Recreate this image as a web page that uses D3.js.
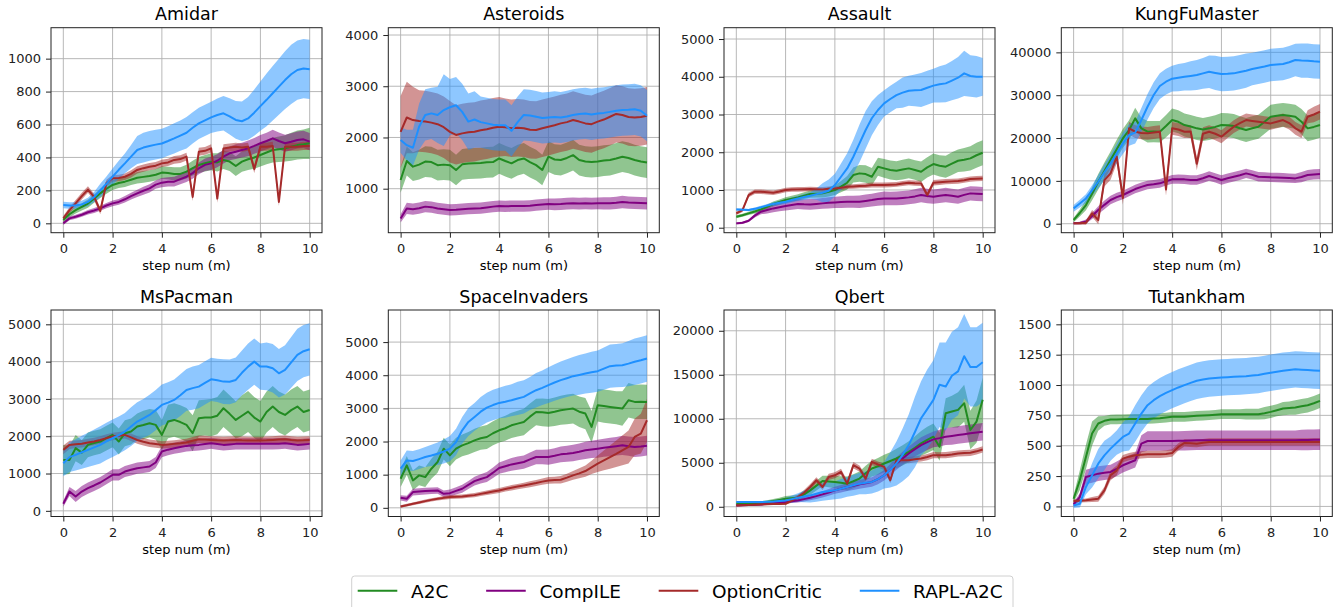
<!DOCTYPE html>
<html><head><meta charset="utf-8">
<script src="https://cdn.jsdelivr.net/npm/d3@7"></script>
<style>body{margin:0;background:#fff}</style>
</head><body><svg id="c" width="1343" height="607"></svg>
<script>
// ---------------- DATA ----------------
const SERIES_NAMES = ["A2C", "CompILE", "OptionCritic", "RAPL-A2C"];
const GAMES = ["Amidar", "Asteroids", "Assault", "KungFuMaster", "MsPacman", "SpaceInvaders", "Qbert", "Tutankham"];
const STEPS = [0, 0.25,0.5,0.75,1, 1.25,1.5,1.75,2, 2.25,2.5,2.75,3, 3.25,3.5,3.75,4, 4.25,4.5,4.75,5,
  5.25,5.5,5.75,6, 6.25,6.5,6.75,7, 7.25,7.5,7.75,8, 8.25,8.5,8.75,9, 9.25,9.5,9.75,10];
const X_TICKS = [0, 2, 4, 6, 8, 10];
const X_LIM = [-0.5, 10.5];

// Amidar
const AMIDAR_YLIM = [-57, 1188];
const AMIDAR_YTICKS = [0, 200, 400, 600, 800, 1000];
const AMIDAR_A2C = [20, 55,80,100,120, 150,182,210,233, 245,253,265,277, 282,287,295,308, 305,300,300,314, 335,354,365,374, 370,385,375,348, 375,389,400,415, 430,445,450,455, 465,475,480,486];
const AMIDAR_A2C_SD = [15, 18,20,22,25, 25,28,30,30, 30,32,33,35, 35,35,35,38, 38,40,40,42, 45,48,50,52, 55,55,58,60, 62,65,68,70, 72,75,78,80, 85,88,90,95];
const AMIDAR_COMP = [0, 30,40,52,67, 78,91,108,121, 130,146,165,182, 198,212,235,247, 252,253,268,283, 305,334,355,364, 380,405,425,435, 445,455,470,486, 500,516,500,486, 495,506,510,496];
const AMIDAR_COMP_SD = [10, 12,12,12,14, 15,15,16,18, 18,20,20,22, 24,25,25,28, 28,30,30,32, 34,36,38,40, 40,42,42,45, 45,48,48,50, 50,52,52,52, 52,52,52,52];
const AMIDAR_OC = [30, 80,121,165,205, 160,75,245,273, 275,283,300,324, 335,344,350,364, 370,385,390,405, 160,435,440,455, 150,455,460,465, 460,465,330,465, 465,470,130,465, 465,465,470,470];
const AMIDAR_OC_SD = [15, 18,20,20,20, 20,20,20,20, 20,20,22,22, 22,22,22,22, 22,24,24,24, 24,24,24,25, 25,25,25,25, 25,25,25,25, 25,25,25,25, 25,25,25,25];
const AMIDAR_RAPL = [111, 108,108,115,130, 160,200,240,283, 325,364,405,445, 460,470,478,485, 500,516,533,550, 580,607,625,643, 658,668,650,628, 620,637,672,712, 750,790,830,870, 905,931,940,935];
const AMIDAR_RAPL_SD = [20, 20,20,22,25, 30,40,45,50, 55,60,70,85, 90,90,90,90, 90,92,92,95, 95,95,95,95, 100,105,110,115, 120,130,140,150, 160,165,170,175, 180,180,180,180];

// Asteroids
const ASTEROIDS_YLIM = [141, 4143];
const ASTEROIDS_YTICKS = [1000, 2000, 3000, 4000];
const ASTEROIDS_A2C = [1170, 1540,1430,1470,1530, 1520,1460,1470,1460, 1365,1475,1490,1495, 1500,1515,1520,1590, 1540,1495,1560,1590, 1520,1460,1365,1625, 1570,1560,1600,1655, 1560,1530,1520,1530, 1550,1560,1590,1625, 1600,1560,1530,1510];
const ASTEROIDS_A2C_SD = [250, 280,280,290,300, 300,300,300,300, 300,300,300,300, 300,300,300,300, 300,300,300,300, 300,300,300,300, 300,300,300,300, 300,300,300,300, 300,300,300,300, 300,300,300,300];
const ASTEROIDS_COMP = [420, 615,600,620,650, 640,615,600,585, 590,600,610,615, 620,635,650,660, 655,660,660,660, 665,680,690,700, 695,700,710,715, 710,715,710,715, 715,715,725,740, 730,725,720,715];
const ASTEROIDS_COMP_SD = [80, 110,110,110,110, 110,110,110,110, 110,110,110,110, 110,110,110,110, 110,110,110,110, 110,110,110,110, 115,115,115,115, 115,115,115,115, 120,120,120,120, 120,120,120,120];
const ASTEROIDS_OC = [2110, 2390,2340,2320,2310, 2290,2260,2200,2110, 2050,2080,2100,2110, 2140,2160,2190,2210, 2200,2180,2190,2180, 2150,2145,2180,2210, 2240,2275,2300,2340, 2310,2275,2260,2310, 2350,2405,2460,2440, 2400,2390,2400,2425];
const ASTEROIDS_OC_SD = [700, 700,650,600,600, 600,600,600,600, 580,580,580,580, 580,580,580,580, 560,560,560,560, 560,560,560,560, 560,560,560,560, 560,560,560,560, 560,560,560,560, 560,560,560,560];
const ASTEROIDS_RAPL = [1950, 1850,1800,2210,2440, 2470,2440,2535,2590, 2630,2500,2310,2350, 2300,2275,2250,2240, 2240,2130,2300,2440, 2430,2405,2380,2390, 2400,2390,2410,2440, 2460,2470,2450,2470, 2480,2500,2520,2535, 2540,2550,2520,2425];
const ASTEROIDS_RAPL_SD = [250, 300,350,450,500, 500,550,700,550, 550,550,550,550, 500,500,500,500, 500,500,500,500, 500,500,500,500, 500,500,500,500, 500,500,500,500, 500,500,500,500, 500,500,500,500];

// Assault
const ASSAULT_YLIM = [-132, 5300];
const ASSAULT_YTICKS = [0, 1000, 2000, 3000, 4000, 5000];
const ASSAULT_A2C = [290, 330,380,430,486, 555,627,680,733, 770,804,850,892, 900,910,950,998, 1087,1192,1395,1440, 1422,1350,1617,1572, 1530,1510,1540,1572, 1530,1484,1600,1687, 1640,1617,1700,1775, 1800,1837,1920,1987];
const ASSAULT_A2C_SD = [40, 40,45,50,55, 60,65,70,75, 80,85,90,95, 100,110,120,130, 150,180,200,220, 230,230,240,250, 250,250,260,260, 260,270,270,280, 280,290,300,300, 310,320,330,330];
const ASSAULT_COMP = [115, 130,185,320,424, 470,512,545,574, 600,627,620,618, 630,645,660,671, 680,690,690,690, 710,733,760,777, 775,777,790,804, 830,866,840,822, 845,866,845,822, 870,910,900,892];
const ASSAULT_COMP_SD = [30, 30,35,50,70, 90,100,110,120, 125,130,135,140, 140,145,150,150, 155,160,160,165, 170,170,175,180, 180,180,185,185, 190,190,190,190, 190,190,190,190, 190,190,190,190];
const ASSAULT_OC = [380, 468,866,954,954, 940,928,960,998, 1010,1016,1020,1025, 1020,1016,1030,1042, 1060,1087,1095,1104, 1115,1130,1130,1130, 1140,1148,1170,1192, 1180,1175,866,1192, 1205,1219,1228,1237, 1260,1290,1300,1307];
const ASSAULT_OC_SD = [40, 50,60,60,60, 60,60,60,60, 60,60,60,60, 60,60,60,60, 60,60,60,60, 65,65,65,65, 65,65,65,65, 70,70,70,70, 70,70,70,70, 70,70,70,70];
const ASSAULT_RAPL = [486, 478,468,500,540, 585,627,660,690, 735,777,812,848, 890,928,980,1130, 1350,1570,1880,2235, 2590,2900,3120,3295, 3410,3515,3580,3630, 3640,3650,3710,3765, 3800,3825,3900,3975, 4090,4020,4000,4000];
const ASSAULT_RAPL_SD = [30, 30,30,35,40, 45,50,55,60, 65,70,80,90, 150,250,300,300, 350,400,450,500, 500,450,400,350, 350,350,400,400, 420,450,450,450, 480,500,520,550, 600,550,550,500];

// KungFuMaster
const KUNGFU_YLIM = [-2100, 45760];
const KUNGFU_YTICKS = [0, 10000, 20000, 30000, 40000];
const KUNGFU_A2C = [860, 2500,4360,7000,9800, 12300,14860,17400,19920, 21870,24590,22260,21480, 21500,21480,22800,24200, 23800,23040,22700,22260, 22000,22260,22600,23040, 23000,22800,22300,21870, 22300,22650,23800,24980, 25200,25370,25200,24980, 23800,22260,22600,23040];
const KUNGFU_A2C_SD = [500, 800,1200,1500,1800, 2000,2000,2200,2200, 2300,2500,2500,2500, 2500,2500,2600,2700, 2700,2700,2700,2700, 2700,2700,2700,2800, 2800,2800,2800,2800, 2800,2800,2800,2800, 2800,2800,2800,2800, 3000,3000,3000,3000];
const KUNGFU_COMP = [80, 150,470,1800,3190, 4400,5530,6200,6700, 7400,8090,8600,9030, 9200,9420,9900,10350, 10400,10350,10200,10190, 10600,11130,10700,10190, 10600,10970,11300,11750, 11400,10970,10900,10820, 10780,10740,10650,10580, 10900,11360,11500,11600];
const KUNGFU_COMP_SD = [200, 300,500,700,900, 1000,1000,1000,1000, 1000,1000,1000,1000, 1000,1000,1000,1000, 1100,1100,1100,1100, 1100,1100,1100,1100, 1100,1100,1100,1100, 1100,1100,1100,1100, 1100,1100,1100,1100, 1200,1200,1200,1200];
const KUNGFU_OC = [80, 100,230,2400,860, 10190,11750,15640,6000, 22260,21480,21200,21090, 21300,21480,8000,22260, 22000,21480,21500,14000, 21000,21480,21000,20310, 21500,22650,23500,24200, 24000,23810,23600,23420, 23800,24200,23500,22260, 21500,24980,25500,26150];
const KUNGFU_OC_SD = [200, 300,500,800,1000, 1500,1500,1500,1500, 1500,1500,1500,1500, 1500,1500,1500,1500, 1500,1500,1500,1500, 1500,1500,1500,1500, 1500,1500,1500,1500, 1500,1500,1500,1500, 1500,1500,1500,1500, 1500,1500,1800,1800];
const KUNGFU_RAPL = [3580, 4700,5900,7800,9800, 12000,14090,16400,18750, 20700,21250,24200,27300, 30040,32140,33150,33850, 34100,34320,34500,34710, 35100,35490,35200,34940, 35000,35100,35400,35720, 36100,36420,36700,37040, 37150,37280,37700,38210, 38100,38050,37900,37820];
const KUNGFU_RAPL_SD = [800, 900,1000,1200,1500, 1800,2000,2200,2500, 2500,2500,2800,3000, 3000,3000,3000,3000, 3200,3200,3400,3500, 3600,3800,4000,4000, 4000,4000,4000,4000, 3800,3800,3800,3800, 3800,3800,3800,3800, 4000,4000,4000,4000];

// MsPacman
const MSPACMAN_YLIM = [-152, 5384];
const MSPACMAN_YTICKS = [0, 1000, 2000, 3000, 4000, 5000];
const MSPACMAN_A2C = [1366, 1366,1680,1560,1768, 1820,1857,1950,2036, 1857,2080,2125,2259, 2300,2348,2304,2036, 2393,2437,2380,2304, 2080,2482,2500,2500, 2550,2750,2600,2437, 2550,2660,2500,2393, 2650,2795,2650,2571, 2700,2795,2650,2705];
const MSPACMAN_A2C_SD = [400, 380,350,330,330, 330,330,330,330, 350,350,350,350, 380,380,400,400, 450,450,450,450, 480,480,480,500, 500,500,500,500, 550,550,550,550, 550,550,550,550, 550,550,550,550];
const MSPACMAN_COMP = [188, 518,384,518,607, 680,759,860,964, 964,1054,1100,1143, 1165,1188,1295,1589, 1640,1679,1710,1741, 1755,1768,1790,1812, 1790,1768,1780,1795, 1795,1795,1795,1795, 1795,1795,1800,1812, 1790,1768,1780,1795];
const MSPACMAN_COMP_SD = [80, 120,150,150,150, 150,150,150,150, 150,150,150,150, 150,150,150,150, 150,150,150,150, 150,150,150,150, 150,150,150,150, 150,150,150,150, 150,150,150,150, 150,150,150,150];
const MSPACMAN_OC = [1634, 1768,1786,1800,1830, 1860,1900,1950,1990, 2010,2036,1970,1900, 1850,1812,1790,1768, 1780,1795,1810,1830, 1880,1920,1910,1900, 1890,1884,1890,1900, 1890,1884,1884,1884, 1890,1900,1910,1920, 1900,1884,1890,1900];
const MSPACMAN_OC_SD = [120, 110,100,100,100, 100,100,100,100, 100,100,100,100, 100,100,100,100, 100,100,100,100, 100,100,100,100, 100,100,100,100, 100,100,100,100, 100,100,100,100, 100,100,100,100];
const MSPACMAN_RAPL = [1277, 1440,1500,1570,1634, 1700,1768,1860,1946, 2030,2125,2260,2393, 2480,2571,2700,2840, 2900,2973,3100,3241, 3290,3330,3430,3527, 3500,3464,3460,3509, 3700,3866,4000,3866, 3870,3821,3687,3777, 3980,4179,4280,4330];
const MSPACMAN_RAPL_SD = [350, 400,420,440,460, 480,500,500,500, 500,500,520,520, 520,540,540,550, 550,550,560,560, 580,580,580,580, 580,600,600,600, 600,620,620,620, 640,650,650,660, 680,700,700,700];

// SpaceInvaders
const SPACE_YLIM = [-262, 5968];
const SPACE_YTICKS = [0, 1000, 2000, 3000, 4000, 5000];
const SPACE_A2C = [877, 1280,827,978,927, 1180,1381,1784,1583, 1784,1885,1950,2036, 2100,2137,2250,2339, 2400,2490,2540,2590, 2750,2893,2880,2863, 2900,2944,2970,2994, 2900,2843,2440,3095, 3070,3044,3020,2994, 3246,3196,3200,3196];
const SPACE_A2C_SD = [250, 280,300,300,300, 300,320,330,330, 330,330,340,350, 350,360,360,370, 380,380,390,400, 400,400,420,420, 430,440,450,450, 460,470,480,490, 500,500,500,520, 520,520,520,520];
const SPACE_COMP = [302, 272,474,490,504, 515,524,423,443, 510,575,690,806, 870,927,1060,1200, 1255,1310,1345,1381, 1460,1532,1532,1532, 1570,1613,1630,1653, 1690,1734,1760,1784, 1810,1835,1860,1885, 1860,1835,1850,1875];
const SPACE_COMP_SD = [80, 90,100,100,100, 100,100,100,110, 110,120,120,130, 140,150,160,170, 180,190,200,200, 210,220,220,230, 230,240,240,250, 250,260,260,270, 270,280,280,290, 290,300,300,300];
const SPACE_OC = [40, 80,121,160,202, 240,272,300,323, 333,343,363,383, 420,454,490,524, 565,605,640,675, 710,746,790,827, 837,847,910,978, 1040,1109,1220,1331, 1430,1532,1630,1734, 1835,2137,2238,2641];
const SPACE_OC_SD = [40, 40,40,45,50, 50,50,55,55, 60,60,60,65, 65,70,70,75, 75,80,80,85, 90,90,95,100, 100,110,120,130, 150,170,200,250, 300,350,400,450, 500,550,600,650];
const SPACE_RAPL = [1180, 1431,1411,1470,1532, 1580,1633,1700,1784, 1986,2339,2590,2742, 2900,3024,3100,3165, 3200,3246,3300,3347, 3450,3548,3620,3700, 3780,3851,3910,3972, 4010,4052,4090,4123, 4200,4274,4290,4304, 4350,4405,4450,4506];
const SPACE_RAPL_SD = [250, 300,300,300,300, 320,340,360,380, 400,400,420,420, 440,450,460,460, 480,480,500,500, 500,520,520,540, 550,560,570,580, 600,600,620,620, 640,650,650,660, 680,700,700,700];

// Qbert
const QBERT_YLIM = [-1105, 22360];
const QBERT_YTICKS = [0, 5000, 10000, 15000, 20000];
const QBERT_A2C = [343, 360,380,420,457, 550,650,780,914, 970,1030,1400,1867, 2400,2933,2880,2819, 2720,2629,2900,3200, 3800,4343,4600,4914, 5200,5486,5850,6248, 6700,7200,7600,7962, 6819,10630,10819,11010, 11771,8724,9676,12152];
const QBERT_A2C_SD = [150, 150,150,160,170, 200,220,250,300, 320,350,400,500, 550,600,650,700, 750,800,800,800, 850,900,950,1000, 1000,1100,1150,1200, 1300,1400,1500,1500, 1600,1700,1800,2000, 2100,2200,2400,2500];
const QBERT_COMP = [152, 180,210,240,267, 330,400,465,533, 620,724,870,1030, 1210,1410,1630,1867, 2050,2248,2400,2552, 2680,2819,3150,3581, 4200,4914,5500,6057, 6550,7010,7350,7657, 7800,7962,8050,8152, 8250,8343,8440,8533];
const QBERT_COMP_SD = [100, 100,100,100,110, 120,130,150,170, 200,230,260,300, 330,360,380,400, 420,450,480,500, 520,550,580,600, 650,700,750,800, 850,900,900,900, 950,950,1000,1000, 1000,1000,1000,1000];
const QBERT_OC = [152, 180,210,240,267, 290,310,325,343, 700,1105,1600,2248, 3010,2248,3390,3581, 3962,2629,4724,4343, 3200,5105,4800,4533, 3010,5295,5300,5295, 5400,5486,5650,5867, 5850,5867,5950,6057, 6100,6133,6300,6514];
const QBERT_OC_SD = [100, 100,100,100,100, 100,100,100,120, 200,250,300,350, 350,350,350,350, 350,350,350,350, 350,350,350,350, 350,350,350,350, 350,350,350,350, 350,350,350,350, 350,350,350,350];
const QBERT_RAPL = [533, 533,533,533,533, 560,600,660,724, 870,1030,1160,1295, 1480,1676,1770,1867, 2050,2248,2440,2629, 2720,2819,3150,3581, 4200,4914,5900,7010, 8500,10057,11100,12152, 13867,13676,14895,15390, 17105,15886,15886,16419];
const QBERT_RAPL_SD = [100, 100,100,100,100, 120,150,200,300, 400,500,650,800, 900,1000,1000,1000, 1100,1100,1200,1200, 1300,1300,1400,1500, 2000,2500,3000,3500, 4000,4200,4500,4500, 4800,5000,5000,5000, 4800,4500,4500,4500];

// Tutankham
const TUTANKHAM_YLIM = [-83, 1618];
const TUTANKHAM_YTICKS = [0, 250, 500, 750, 1000, 1250, 1500];
const TUTANKHAM_A2C = [63, 215,407,600,683, 705,716,717,718, 720,721,721,721, 724,727,732,738, 738,738,742,746, 748,751,755,760, 760,760,760,760, 760,760,768,779, 792,806,810,815, 825,834,850,870];
const TUTANKHAM_A2C_SD = [30, 80,100,100,60, 40,40,40,40, 40,40,40,40, 40,40,40,40, 40,40,40,40, 40,40,40,40, 40,40,40,45, 45,45,50,50, 50,55,55,60, 60,60,60,60];
const TUTANKHAM_COMP = [17, 77,242,256,270, 277,284,310,339, 360,380,517,539, 539,539,539,539, 540,541,543,545, 545,545,545,545, 545,545,545,545, 545,545,545,545, 545,545,545,545, 547,548,549,550];
const TUTANKHAM_COMP_SD = [20, 30,60,60,60, 60,60,60,60, 60,60,70,80, 80,80,80,80, 80,80,80,80, 80,80,80,80, 80,80,80,80, 80,80,80,80, 80,80,80,80, 85,85,85,85];
const TUTANKHAM_OC = [44, 47,50,57,63, 132,256,297,394, 410,421,425,429, 429,429,432,440, 490,523,520,517, 525,531,531,531, 531,531,531,531, 531,531,531,531, 531,531,531,531, 531,531,531,531];
const TUTANKHAM_OC_SD = [15, 15,15,20,25, 30,40,40,30, 30,30,30,30, 30,30,30,30, 30,30,30,30, 30,30,30,30, 30,30,30,30, 30,30,30,30, 30,30,30,30, 30,30,30,30];
const TUTANKHAM_RAPL = [8, 22,160,256,352, 421,476,525,572, 600,683,765,834, 875,908,935,958, 980,999,1018,1035, 1045,1054,1058,1062, 1065,1068,1070,1073, 1078,1082,1092,1101, 1110,1117,1123,1129, 1126,1123,1120,1117];
const TUTANKHAM_RAPL_SD = [20, 30,60,100,120, 120,100,100,120, 140,150,150,150, 150,150,150,150, 150,150,150,150, 150,150,150,150, 150,150,150,150, 150,150,150,150, 150,150,150,150, 150,150,150,150];

// ---------------- BUILD ----------------
const PANELS = [
  {ylim: AMIDAR_YLIM, yticks: AMIDAR_YTICKS, series: [[AMIDAR_A2C, AMIDAR_A2C_SD], [AMIDAR_COMP, AMIDAR_COMP_SD], [AMIDAR_OC, AMIDAR_OC_SD], [AMIDAR_RAPL, AMIDAR_RAPL_SD]]},
  {ylim: ASTEROIDS_YLIM, yticks: ASTEROIDS_YTICKS, series: [[ASTEROIDS_A2C, ASTEROIDS_A2C_SD], [ASTEROIDS_COMP, ASTEROIDS_COMP_SD], [ASTEROIDS_OC, ASTEROIDS_OC_SD], [ASTEROIDS_RAPL, ASTEROIDS_RAPL_SD]]},
  {ylim: ASSAULT_YLIM, yticks: ASSAULT_YTICKS, series: [[ASSAULT_A2C, ASSAULT_A2C_SD], [ASSAULT_COMP, ASSAULT_COMP_SD], [ASSAULT_OC, ASSAULT_OC_SD], [ASSAULT_RAPL, ASSAULT_RAPL_SD]]},
  {ylim: KUNGFU_YLIM, yticks: KUNGFU_YTICKS, series: [[KUNGFU_A2C, KUNGFU_A2C_SD], [KUNGFU_COMP, KUNGFU_COMP_SD], [KUNGFU_OC, KUNGFU_OC_SD], [KUNGFU_RAPL, KUNGFU_RAPL_SD]]},
  {ylim: MSPACMAN_YLIM, yticks: MSPACMAN_YTICKS, series: [[MSPACMAN_A2C, MSPACMAN_A2C_SD], [MSPACMAN_COMP, MSPACMAN_COMP_SD], [MSPACMAN_OC, MSPACMAN_OC_SD], [MSPACMAN_RAPL, MSPACMAN_RAPL_SD]]},
  {ylim: SPACE_YLIM, yticks: SPACE_YTICKS, series: [[SPACE_A2C, SPACE_A2C_SD], [SPACE_COMP, SPACE_COMP_SD], [SPACE_OC, SPACE_OC_SD], [SPACE_RAPL, SPACE_RAPL_SD]]},
  {ylim: QBERT_YLIM, yticks: QBERT_YTICKS, series: [[QBERT_A2C, QBERT_A2C_SD], [QBERT_COMP, QBERT_COMP_SD], [QBERT_OC, QBERT_OC_SD], [QBERT_RAPL, QBERT_RAPL_SD]]},
  {ylim: TUTANKHAM_YLIM, yticks: TUTANKHAM_YTICKS, series: [[TUTANKHAM_A2C, TUTANKHAM_A2C_SD], [TUTANKHAM_COMP, TUTANKHAM_COMP_SD], [TUTANKHAM_OC, TUTANKHAM_OC_SD], [TUTANKHAM_RAPL, TUTANKHAM_RAPL_SD]]}
];

// ---------------- STYLE / LAYOUT ----------------
const COLORS = ["#228b22", "#800080", "#a52a2a", "#1e90ff"];
const FONT = "'DejaVu Sans', sans-serif";
const COL_X = [51, 388.3, 724, 1061.3];
const PW = 271;
const ROW_Y = [27.7, 310];
const PH = [205, 206.5];
const INK = "#222";

const svg = d3.select("#c");

PANELS.forEach((p, i) => {
  const col = i % 4, row = Math.floor(i / 4);
  const h = PH[row];
  const g = svg.append("g").attr("transform", `translate(${COL_X[col]},${ROW_Y[row]})`);
  const x = d3.scaleLinear().domain(X_LIM).range([0, PW]);
  const y = d3.scaleLinear().domain(p.ylim).range([h, 0]);

  // grid
  const grid = g.append("g").attr("stroke", "#b0b0b0").attr("stroke-width", 0.9);
  grid.selectAll("line.vx").data(X_TICKS).join("line").attr("class", "vx")
    .attr("x1", d => x(d)).attr("x2", d => x(d)).attr("y1", 0).attr("y2", h);
  grid.selectAll("line.hy").data(p.yticks).join("line").attr("class", "hy")
    .attr("y1", d => y(d)).attr("y2", d => y(d)).attr("x1", 0).attr("x2", PW);

  // clip
  const clipId = "clip" + i;
  g.append("clipPath").attr("id", clipId).append("rect").attr("width", PW).attr("height", h);
  const plot = g.append("g").attr("clip-path", `url(#${clipId})`);
  const bands = plot.append("g");
  const lines = plot.append("g");

  p.series.forEach(([mean, sd], k) => {
    const area = d3.area()
      .x((d, j) => x(STEPS[j]))
      .y0((d, j) => y(d - sd[j]))
      .y1((d, j) => y(d + sd[j]));
    bands.append("path").datum(mean).attr("d", area)
      .attr("fill", COLORS[k]).attr("fill-opacity", 0.5).attr("stroke", "none");
    const line = d3.line().x((d, j) => x(STEPS[j])).y(d => y(d));
    lines.append("path").datum(mean).attr("d", line)
      .attr("fill", "none").attr("stroke", COLORS[k]).attr("stroke-width", 2)
      .attr("stroke-linejoin", "round");
  });

  // axes
  const ax = g.append("g").attr("transform", `translate(0,${h})`)
    .call(d3.axisBottom(x).tickValues(X_TICKS).tickSize(5).tickPadding(6).tickFormat(d3.format("d")));
  const ay = g.append("g")
    .call(d3.axisLeft(y).tickValues(p.yticks).tickSize(5).tickPadding(5).tickFormat(d3.format("d")));
  [ax, ay].forEach(a => {
    a.select(".domain").remove();
    a.selectAll("text").attr("font-family", FONT).attr("font-size", 13).attr("fill", INK);
    a.selectAll("line").attr("stroke", INK).attr("stroke-width", 1);
  });

  // frame
  g.append("rect").attr("width", PW).attr("height", h)
    .attr("fill", "none").attr("stroke", INK).attr("stroke-width", 1);

  // title & xlabel
  g.append("text").attr("x", PW / 2).attr("y", -7.5).attr("text-anchor", "middle")
    .attr("font-family", FONT).attr("font-size", 17.5).attr("fill", "#000").text(GAMES[i]);
  g.append("text").attr("x", PW / 2).attr("y", h + 37).attr("text-anchor", "middle")
    .attr("font-family", FONT).attr("font-size", 13).attr("fill", "#000").text("step num (m)");
});

// legend
const LEG_X = 351.7, LEG_Y = 576, LEG_W = 661.3, LEG_H = 44;
const leg = svg.append("g");
leg.append("rect").attr("x", LEG_X).attr("y", LEG_Y).attr("width", LEG_W).attr("height", LEG_H)
  .attr("rx", 3).attr("fill", "#fff").attr("fill-opacity", 0.8).attr("stroke", "#d0d0d0").attr("stroke-width", 1);
let cx = LEG_X + 6;
SERIES_NAMES.forEach((name, k) => {
  leg.append("line").attr("x1", cx).attr("x2", cx + 39.6).attr("y1", 590.7).attr("y2", 590.7)
    .attr("stroke", COLORS[k]).attr("stroke-width", 2);
  const t = leg.append("text").attr("x", cx + 53.3).attr("y", 598.3)
    .attr("font-family", FONT).attr("font-size", 18.5).attr("fill", "#000").text(name);
  cx = cx + 53.3 + t.node().getComputedTextLength() + 37.8;
});
</script>
</body></html>
